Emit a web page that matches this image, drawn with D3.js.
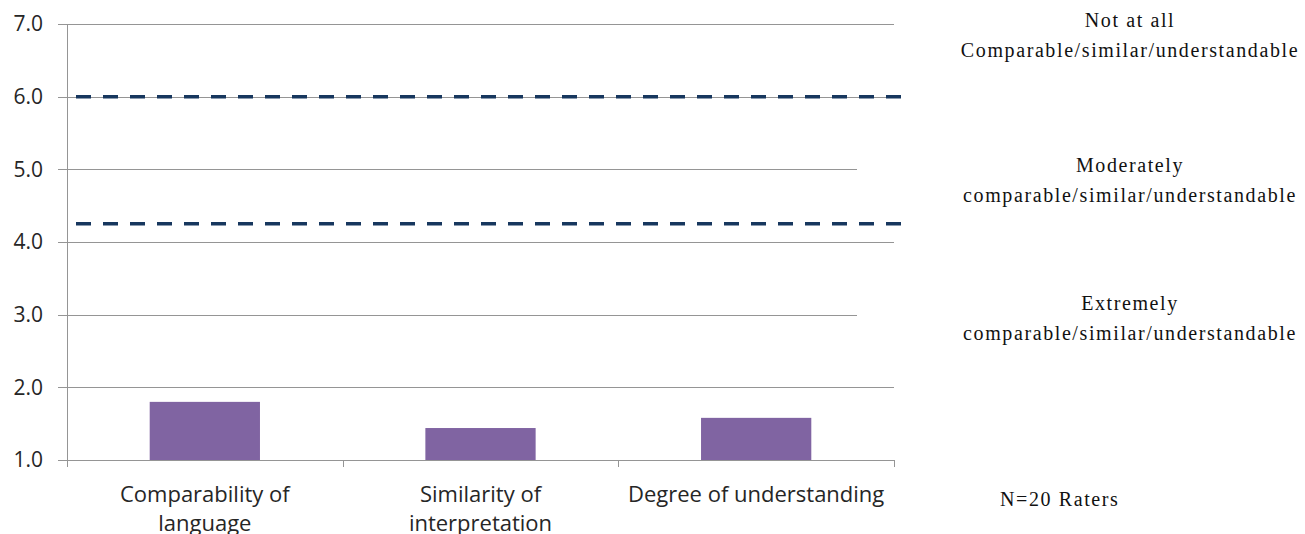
<!DOCTYPE html>
<html>
<head>
<meta charset="utf-8">
<script src="https://cdn.jsdelivr.net/npm/d3@7"></script>
<style>
  html, body { margin: 0; padding: 0; background: #fff; }
  svg { display: block; }
</style>
</head>
<body>
<svg id="chart" width="1305" height="534"></svg>
<script>
const categories = [["Comparability of", "language"], ["Similarity of", "interpretation"], ["Degree of understanding"]];
const categoryKeys = ["Comparability of language", "Similarity of interpretation", "Degree of understanding"];
const meanScores = [1.80, 1.44, 1.58];
const yTicks = [1, 2, 3, 4, 5, 6, 7];
const thresholds = [6.0, 4.25];
const scaleNotes = [
  { lines: ["Not at all", "Comparable/similar/understandable"], value: 6.6 },
  { lines: ["Moderately", "comparable/similar/understandable"], value: 5.0 },
  { lines: ["Extremely", "comparable/similar/understandable"], value: 3.0 }
];
const footnote = "N=20 Raters";

(function () {
const svg = d3.select("#chart");
const mLeft = 67, mRight = 894, mTop = 24, mBottom = 460;

const y = d3.scaleLinear().domain([1, 7]).range([mBottom, mTop]);
const x = d3.scaleBand().domain(categoryKeys).range([mLeft, mRight]).paddingInner(0).paddingOuter(0);
const barW = x.bandwidth() * 0.4;

// gridlines
svg.append("g").selectAll("line").data(yTicks).join("line")
  .attr("x1", mLeft - 9).attr("x2", mRight)
  .attr("y1", d => Math.round(y(d)) + 0.5).attr("y2", d => Math.round(y(d)) + 0.5)
  .attr("stroke", "#959595").attr("stroke-width", 1);

// y axis line
svg.append("line").attr("x1", mLeft + 0.5).attr("x2", mLeft + 0.5)
  .attr("y1", mTop).attr("y2", mBottom + 0.5)
  .attr("stroke", "#959595");

// y labels via axis
const yAxis = svg.append("g").attr("transform", `translate(${mLeft - 9},0)`)
  .call(d3.axisLeft(y).tickValues(yTicks).tickFormat(d3.format(".1f")).tickSize(0).tickPadding(15));
yAxis.select(".domain").remove();
yAxis.selectAll("text").attr("font-family", "'Open Sans', sans-serif").attr("font-size", 21).attr("fill", "#262626");

// x axis ticks
const boundaries = [mLeft].concat(categoryKeys.map(k => x(k) + x.bandwidth()));
svg.append("g").selectAll("line").data(boundaries).join("line")
  .attr("x1", d => Math.round(d) + 0.5).attr("x2", d => Math.round(d) + 0.5)
  .attr("y1", mBottom).attr("y2", mBottom + 7)
  .attr("stroke", "#959595");

// bars
svg.append("g").selectAll("rect").data(meanScores).join("rect")
  .attr("x", (d, i) => x(categoryKeys[i]) + (x.bandwidth() - barW) / 2)
  .attr("width", barW)
  .attr("y", d => y(d))
  .attr("height", d => y(1) - y(d))
  .attr("fill", "#8064A2");

// x labels
const xl = svg.append("g").selectAll("text").data(categories).join("text")
  .attr("x", (d, i) => x(categoryKeys[i]) + x.bandwidth() / 2)
  .attr("y", 502)
  .attr("text-anchor", "middle")
  .attr("font-family", "'Open Sans', sans-serif").attr("font-size", 22).attr("fill", "#262626");
xl.selectAll("tspan").data(d => d).join("tspan")
  .attr("x", function() { return this.parentNode.getAttribute("x"); })
  .attr("dy", (d, i) => i === 0 ? 0 : 29)
  .text(d => d);

// white boxes for note text
svg.append("g").selectAll("rect").data(scaleNotes).join("rect")
  .attr("x", 857).attr("width", 448)
  .attr("y", d => y(d.value) - 18).attr("height", 36)
  .attr("fill", "#fff");

// notes
const nt = svg.append("g").selectAll("text").data(scaleNotes).join("text")
  .attr("x", 1130)
  .attr("y", (d, i) => [27, 172, 310][i])
  .attr("text-anchor", "middle")
  .attr("font-family", "'Liberation Serif', serif").attr("font-size", 20)
  .attr("letter-spacing", 1.6).attr("fill", "#111");
nt.selectAll("tspan").data(d => d.lines).join("tspan")
  .attr("x", 1130)
  .attr("dy", (d, i) => i === 0 ? 0 : 30)
  .text(d => d);

svg.append("text").attr("x", 1000).attr("y", 506)
  .attr("font-family", "'Liberation Serif', serif").attr("font-size", 20)
  .attr("letter-spacing", 1.6).attr("fill", "#111")
  .text(footnote);

// threshold dashed lines
svg.append("g").selectAll("line").data(thresholds).join("line")
  .attr("x1", 76).attr("x2", 908)
  .attr("y1", d => y(d)).attr("y2", d => y(d))
  .attr("stroke", "#17375E").attr("stroke-width", 3.5)
  .attr("stroke-dasharray", "15,12");
})();
</script>
</body>
</html>
